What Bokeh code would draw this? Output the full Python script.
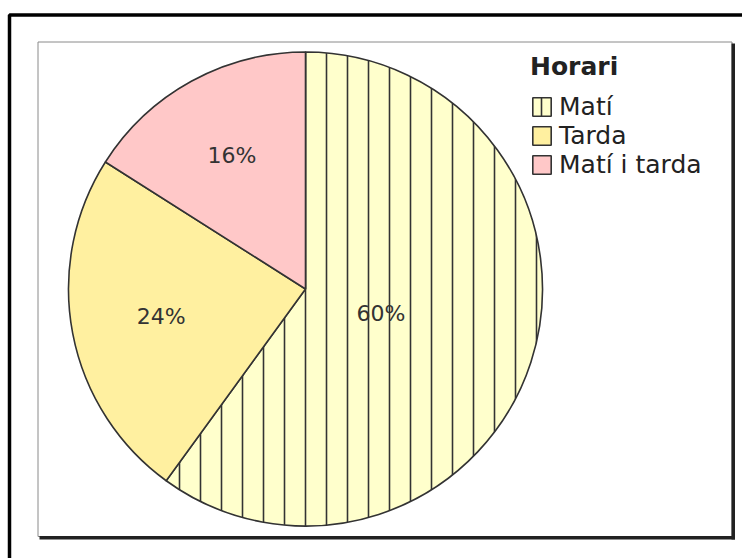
import numpy as np
from bokeh.plotting import figure
from bokeh.models import ColumnDataSource, Range1d, BoxAnnotation, Legend, LegendItem
from bokeh.embed import file_html
from bokeh.resources import INLINE
from bokeh.core.properties import value

# ---- data ----
categories = ["Matí", "Tarda", "Matí i tarda"]
percentages = [60, 24, 16]
labels = ["60%", "24%", "16%"]

# ---- style ----
colors = ["#FFFFCC", "#FFF0A0", "#FFC8C8"]
hatches = ["|", " ", " "]
label_radius = [0.335, 0.62, 0.645]
FONT = "DejaVu Sans"

W, H = 742, 558
cx, cy = 305, 288.5
R = 237

p = figure(width=W, height=H, output_backend="svg", toolbar_location=None,
           x_range=Range1d(-cx, W - cx), y_range=Range1d(-(H - cy), cy),
           x_axis_type=None, y_axis_type=None,
           min_border_left=0, min_border_right=0,
           min_border_top=0, min_border_bottom=0)
p.xgrid.visible = False
p.ygrid.visible = False
p.outline_line_color = None
p.background_fill_color = "white"
p.border_fill_color = "white"

def canvas_box(**kw):
    return BoxAnnotation(left_units="canvas", right_units="canvas",
                         top_units="canvas", bottom_units="canvas", **kw)

# outer border and inner frame (drawn under the data)
p.add_layout(canvas_box(left=9, right=800, top=14.5, bottom=800,
                        fill_alpha=0, line_color="black", line_alpha=1, line_width=3.5,
                        level="underlay"))
p.add_layout(canvas_box(left=37.5, right=731.5, top=41.5, bottom=536,
                        fill_alpha=0, line_color="#8a8a8a", line_alpha=1, line_width=1,
                        level="underlay"))
p.add_layout(canvas_box(left=731, right=734.5, top=43, bottom=539,
                        fill_color="#222222", fill_alpha=1, line_alpha=0, level="underlay"))
p.add_layout(canvas_box(left=39, right=734.5, top=535.5, bottom=539,
                        fill_color="#222222", fill_alpha=1, line_alpha=0, level="underlay"))

frac = np.array(percentages, dtype=float) / sum(percentages)
cum = np.cumsum(frac)
cstart = cum - frac
start_angle = np.pi / 2 - 2 * np.pi * cum
end_angle = np.pi / 2 - 2 * np.pi * cstart
mid = (start_angle + end_angle) / 2

items = []
for i, cat in enumerate(categories):
    src = ColumnDataSource(dict(x=[0], y=[0], s=[start_angle[i]], e=[end_angle[i]]))
    r = p.wedge(x="x", y="y", radius=R, radius_units="screen", start_angle="s", end_angle="e",
                source=src, fill_color=colors[i], line_color="#333333", line_width=1.6,
                hatch_pattern=hatches[i], hatch_color="#333333", hatch_weight=1.6,
                hatch_scale=21)
    items.append(LegendItem(label=cat, renderers=[r]))

lr = np.array(label_radius) * R
lsrc = ColumnDataSource(dict(x=lr * np.cos(mid), y=lr * np.sin(mid), t=labels))
p.text(x="x", y="y", text="t", source=lsrc, text_align="center", text_baseline="middle",
       text_font=value(FONT), text_font_size="22px", text_color="#333333")

legend = Legend(items=items, location=(530, 379), title="Horari",
                title_text_font=FONT, title_text_font_style="bold", title_text_font_size="25px",
                title_text_color="#222222", title_standoff=11,
                label_text_font=FONT, label_text_font_size="25px", label_text_color="#222222",
                glyph_width=23, glyph_height=23, label_height=23, label_standoff=6,
                spacing=0, padding=0, margin=0,
                border_line_alpha=0, background_fill_alpha=0)
p.add_layout(legend)

open("out.html", "w").write(file_html(p, INLINE))
